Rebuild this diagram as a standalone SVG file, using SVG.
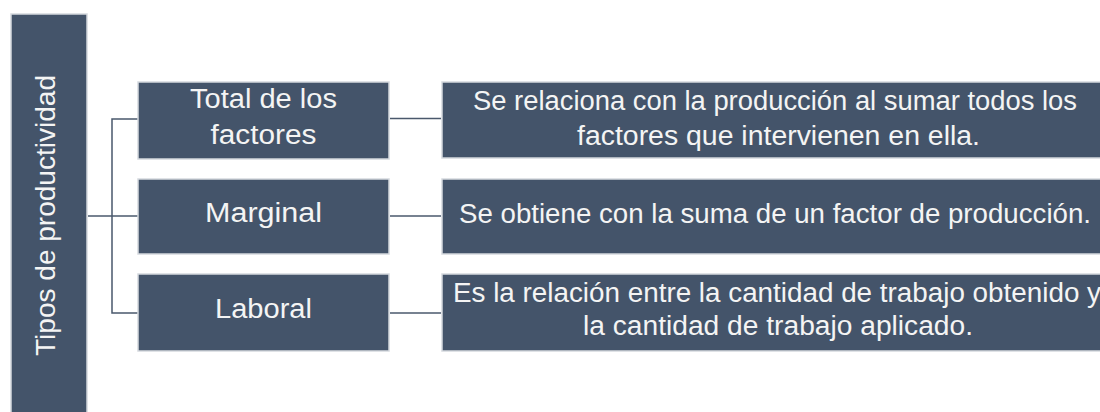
<svg xmlns="http://www.w3.org/2000/svg" width="1100" height="412" viewBox="0 0 1100 412">
  <style>
    .box { fill: #44546a; stroke: #d5d9de; stroke-width: 1.5; }
    .lbl { font-family: "Liberation Sans", Arial, sans-serif; font-size: 27px; fill: #f4f4f4; text-anchor: middle; }
    .conn { stroke: #4a586c; stroke-width: 1.5; fill: none; }
  </style>
  <rect width="1100" height="412" fill="#ffffff"/>
  <g id="connectors">
    <line class="conn" x1="88" y1="216" x2="138" y2="216"/>
    <polyline class="conn" points="138,119 112,119 112,313 138,313"/>
    <line class="conn" x1="390" y1="118.5" x2="441" y2="118.5"/>
    <line class="conn" x1="390" y1="216" x2="441" y2="216"/>
    <line class="conn" x1="390" y1="313" x2="441" y2="313"/>
  </g>
  <g id="root">
    <rect class="box" x="11" y="14" width="76" height="410"/>
    <text class="lbl" transform="translate(55,215.5) rotate(-90)" textLength="281" lengthAdjust="spacingAndGlyphs">Tipos de productividad</text>
  </g>
  <g id="total">
    <rect class="box" x="138" y="82" width="251" height="77"/>
    <text class="lbl" x="263.5" y="108" textLength="147" lengthAdjust="spacingAndGlyphs">Total de los</text>
    <text class="lbl" x="263.5" y="144" textLength="106" lengthAdjust="spacingAndGlyphs">factores</text>
  </g>
  <g id="marginal">
    <rect class="box" x="138" y="179" width="251" height="75"/>
    <text class="lbl" x="263.5" y="222" textLength="117" lengthAdjust="spacingAndGlyphs">Marginal</text>
  </g>
  <g id="laboral">
    <rect class="box" x="138" y="274" width="251" height="77"/>
    <text class="lbl" x="263.5" y="318" textLength="97" lengthAdjust="spacingAndGlyphs">Laboral</text>
  </g>
  <g id="desc-total">
    <rect class="box" x="442" y="82" width="680" height="76"/>
    <text class="lbl" x="775" y="110" textLength="604" lengthAdjust="spacingAndGlyphs">Se relaciona con la producción al sumar todos los</text>
    <text class="lbl" x="778.5" y="145" textLength="403" lengthAdjust="spacingAndGlyphs">factores que intervienen en ella.</text>
  </g>
  <g id="desc-marginal">
    <rect class="box" x="442" y="179" width="680" height="75"/>
    <text class="lbl" x="775" y="223" textLength="632" lengthAdjust="spacingAndGlyphs">Se obtiene con la suma de un factor de producción.</text>
  </g>
  <g id="desc-laboral">
    <rect class="box" x="442" y="274" width="680" height="77"/>
    <text class="lbl" x="777" y="302" textLength="648" lengthAdjust="spacingAndGlyphs">Es la relación entre la cantidad de trabajo obtenido y</text>
    <text class="lbl" x="778" y="335" textLength="390" lengthAdjust="spacingAndGlyphs">la cantidad de trabajo aplicado.</text>
  </g>
</svg>
